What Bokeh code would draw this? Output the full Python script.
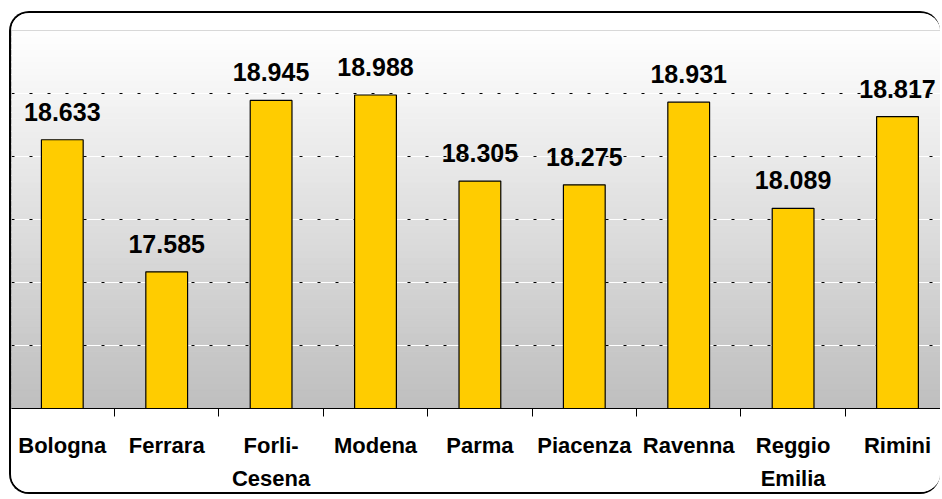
from bokeh.plotting import figure
from bokeh.models import Range1d, FixedTicker, Grid
from bokeh.embed import file_html
from bokeh.resources import INLINE
from bokeh.core.properties import value

categories = ["Bologna", "Ferrara", "Forli-\nCesena", "Modena", "Parma",
              "Piacenza", "Ravenna", "Reggio\nEmilia", "Rimini"]
values = [18.633, 17.585, 18.945, 18.988, 18.305, 18.275, 18.931, 18.089, 18.817]
y_ticks = [16.5, 17.0, 17.5, 18.0, 18.5, 19.0, 19.5]

FONT = "Liberation Sans"
idx = list(range(len(categories)))
y0, y1 = y_ticks[0], y_ticks[-1]

p = figure(width=931, height=483, output_backend="svg", toolbar_location=None,
           x_range=Range1d(-0.4866, 8.431), y_range=Range1d(y0, y1),
           min_border_left=0, min_border_right=0, min_border_top=17, min_border_bottom=88,
           background_fill_color="white", border_fill_color="white",
           outline_line_color="#9a9a9a", outline_line_width=1,
           margin=(11, 0, 0, 9),
           styles={"border-top": "2px solid black", "border-left": "2px solid black",
                   "border-bottom": "2px solid black", "border-right": "none",
                   "border-radius": "20px", "overflow": "hidden"})

# vertical gradient background of plot area (white top -> grey bottom)
n = 60
bots, tops, cols = [], [], []
for i in range(n):
    b = y0 + (y1 - y0) * i / n
    t = y0 + (y1 - y0) * (i + 1) / n
    f = (i + 0.5) / n
    g = int(round(0xBE + (0xFF - 0xBE) * f))
    bots.append(b); tops.append(t); cols.append("#%02x%02x%02x" % (g, g, g))
p.quad(left=-1, right=10, bottom=bots, top=tops, fill_color=cols, line_color=cols,
       line_width=1, level="image")

# grid: white line with black dots
tk = FixedTicker(ticks=y_ticks)
p.xgrid.visible = False
p.ygrid.ticker = tk
p.ygrid.grid_line_color = "white"
p.ygrid.grid_line_width = 1.2
p.add_layout(Grid(dimension=1, ticker=tk, grid_line_color="black",
                  grid_line_dash="3 15", grid_line_width=1.2))

p.vbar(x=idx, top=values, bottom=y0, width=0.4, fill_color="#FFCC00",
       line_color="black", line_width=1.2)

p.text(x=idx, y=values, text=[f"{v:.3f}" for v in values], text_align="center",
       text_baseline="alphabetic", y_offset=-28, text_font=value(FONT),
       text_font_style="bold", text_font_size="25px", text_color="black")

p.yaxis.visible = False
ax = p.xaxis[0]
ax.ticker = FixedTicker(ticks=idx, minor_ticks=[i + 0.5 for i in idx])
ax.major_label_overrides = {i: c for i, c in zip(idx, categories)}
ax.major_tick_line_color = None
ax.major_tick_out = 0
ax.major_tick_in = 0
ax.minor_tick_line_color = "black"
ax.minor_tick_out = 8
ax.minor_tick_in = 0
ax.axis_line_color = "black"
ax.axis_line_width = 1.2
ax.major_label_standoff = 16
ax.major_label_text_font = FONT
ax.major_label_text_font_style = "bold"
ax.major_label_text_font_size = "22px"
ax.major_label_text_color = "black"
ax.major_label_text_line_height = 1.35

open("out.html", "w").write(file_html(p, INLINE))
